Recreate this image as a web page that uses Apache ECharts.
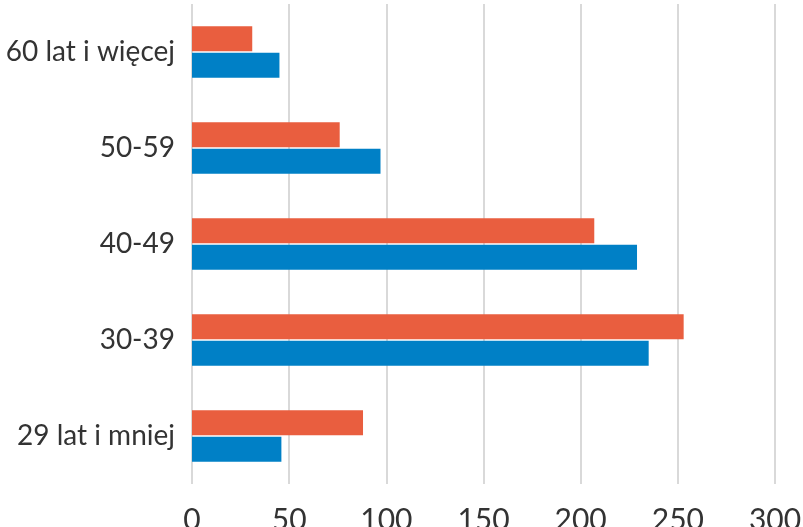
<!DOCTYPE html>
<html><head><meta charset="utf-8">
<script src="https://cdn.jsdelivr.net/npm/echarts@6/dist/echarts.min.js"></script>
<style>html,body{margin:0;padding:0;background:#fff}#c{width:803px;height:527px}</style>
</head><body><div id="c"></div>
<script>
const categories = ["29 lat i mniej", "30-39", "40-49", "50-59", "60 lat i więcej"];
const orangeValues = [88, 253, 207, 76, 31];
const blueValues = [46, 235, 229, 97, 45];
const xTicks = { min: 0, max: 300, interval: 50 };

const chart = echarts.init(document.getElementById('c'));
const font = 'Lato, "Noto Sans", sans-serif';
chart.setOption({
  animation: false,
  grid: { left: 192, right: 28, top: 4, height: 480, containLabel: false, outerBoundsMode: 'none' },
  xAxis: {
    type: 'value', min: xTicks.min, max: xTicks.max, interval: xTicks.interval,
    axisLine: { show: false }, axisTick: { show: false },
    splitLine: { show: true, lineStyle: { color: '#d9d9d9', width: 2 } },
    axisLabel: { fontFamily: font, fontSize: 30, color: '#333', margin: 21 }
  },
  yAxis: {
    type: 'category', data: categories,
    axisLine: { show: false }, axisTick: { show: false },
    axisLabel: { fontFamily: font, fontSize: 28, color: '#333', margin: 17 }
  },
  series: [
    { type: 'bar', data: orangeValues, itemStyle: { color: '#E95E3F' }, barWidth: 25, barGap: '6%' },
    { type: 'bar', data: blueValues, itemStyle: { color: '#0080C6' }, barWidth: 25, barGap: '6%' }
  ]
});
</script></body></html>
